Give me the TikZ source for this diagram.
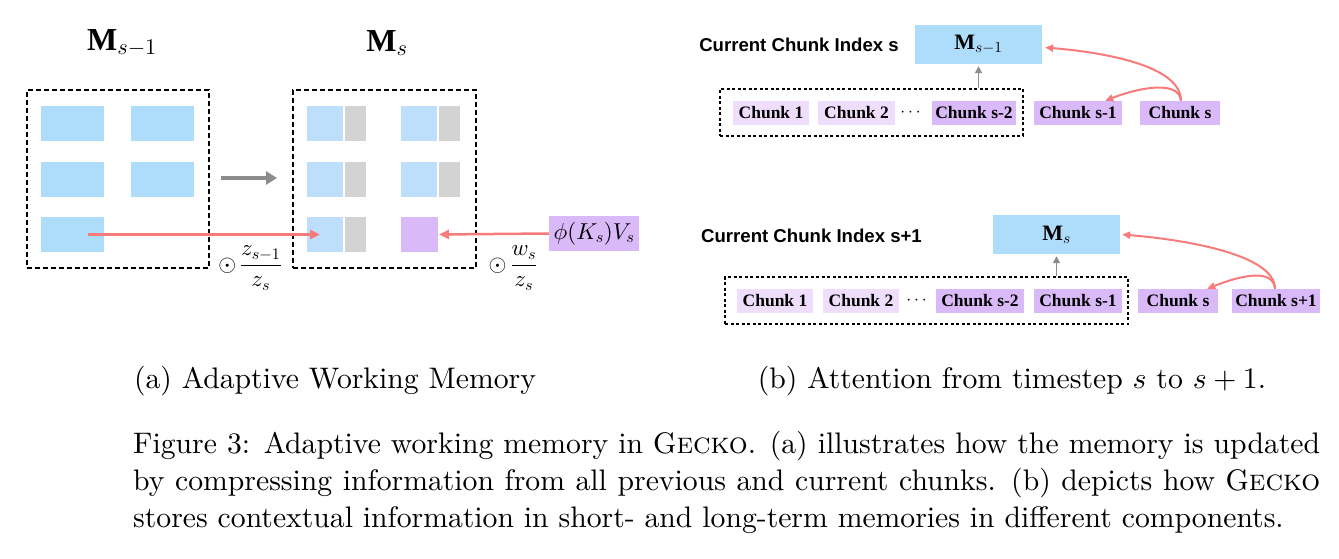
\documentclass[tikz,border=0pt]{standalone}
\usepackage{amsmath}
\usepackage{fontspec}
\setmainfont{lmroman10-regular.otf}[BoldFont=lmroman10-bold.otf, ItalicFont=lmroman10-italic.otf, SmallCapsFont=lmromancaps10-regular.otf]
\DeclareFontShape{OML}{cmm}{m}{it}{<->cmmi10}{}
\DeclareFontShape{OMS}{cmsy}{m}{n}{<->cmsy10}{}
\DeclareFontShape{OT1}{cmr}{m}{n}{<->cmr10}{}
\usetikzlibrary{arrows.meta,calc}
\newfontfamily\tms{Liberation Serif}
\newfontfamily\arl{Liberation Sans}
\definecolor{blueA}{HTML}{AEDCFB}
\definecolor{blueB}{HTML}{BEDFFB}
\definecolor{grayC}{HTML}{D3D3D3}
\definecolor{purpC}{HTML}{DAB9F9}
\definecolor{chunkL}{HTML}{EEDEFC}
\definecolor{chunkD}{HTML}{DAB9F8}
\definecolor{redA}{HTML}{F87B7B}
\definecolor{grayA}{HTML}{8C8C8C}
\newcommand\chfont{\tms\bfseries\fontsize{17.5}{18}\selectfont}
\newcommand\lblfont{\arl\bfseries\fontsize{18.6}{20}\selectfont}
\newcommand\capfont{\fontsize{29.7}{37}\selectfont}
\begin{document}
\begin{tikzpicture}[x=1pt,y=-1pt,
  cell/.style={inner sep=0, outer sep=0, draw=none, minimum height=35pt},
  bcellA/.style={cell, fill=blueA, minimum width=63pt},
  bcellB/.style={cell, fill=blueB, minimum width=36pt},
  gcell/.style={cell, fill=grayC, minimum width=21pt},
  pcell/.style={cell, fill=purpC, minimum width=37pt},
  membox/.style={draw=black, line width=2pt, dash pattern=on 5pt off 3pt, inner sep=0, minimum width=182pt, minimum height=178pt},
  seqbox/.style={draw=black, line width=1.4pt, dash pattern=on 3pt off 2.5pt, inner sep=0, minimum height=47pt},
  chunkl/.style={inner sep=0, fill=chunkL, minimum height=24pt, font=\chfont},
  chunkd/.style={inner sep=0, fill=chunkD, minimum height=24pt, font=\chfont},
  mbox/.style={inner sep=0, fill=blueA, minimum width=127pt, minimum height=39pt, font=\tms\fontsize{22}{24}\selectfont},
  redarr/.style={draw=redA, line width=2.5pt, -{Triangle[length=10pt,width=9pt]}},
  redcurve/.style={draw=redA, line width=2pt, -{Triangle[length=8pt,width=7pt]}},
  grayarr/.style={draw=grayA, line width=4pt, -{Triangle[length=11pt,width=13pt]}},
  grayup/.style={draw=grayA, line width=1.6pt, -{Triangle[length=7pt,width=7pt]}},
  lbl/.style={inner sep=0, font=\lblfont},
  capt/.style={inner sep=0, font=\capfont}
]
\useasboundingbox (0,0) rectangle (1339,559);
\fill[white] (0,0) rectangle (1339,559);

% ---------------- panel (a) ----------------
\node[inner sep=0, font=\fontsize{32}{34}\selectfont] (tML) at (122,43) {{\tms\bfseries M}$_{s-1}$};
\node[inner sep=0, font=\fontsize{32}{34}\selectfont] (tMR) at (387,43) {{\tms\bfseries M}$_{s}$};

\node[membox] (memL) at (118,179) {};
\node[membox, minimum width=183pt] (memR) at (384.5,179) {};

\node[bcellA] (a1) at (72.5,123.5) {};
\node[bcellA] (a2) at (162.5,123.5) {};
\node[bcellA] (a3) at (72.5,179.5) {};
\node[bcellA] (a4) at (162.5,179.5) {};
\node[bcellA] (a5) at (72.5,234.5) {};

\node[bcellB] (b1) at (325,123.5) {};
\node[gcell]  (g1) at (355.5,123.5) {};
\node[bcellB] (b2) at (418.5,123.5) {};
\node[gcell]  (g2) at (449,123.5) {};
\node[bcellB] (b3) at (325,179.5) {};
\node[gcell]  (g3) at (355.5,179.5) {};
\node[bcellB] (b4) at (418.5,179.5) {};
\node[gcell]  (g4) at (449,179.5) {};
\node[bcellB] (b5) at (325,234.5) {};
\node[gcell]  (g5) at (355.5,234.5) {};
\node[pcell]  (p6) at (419.5,234.5) {};

\node[inner sep=0, fill=purpC, minimum width=90pt, minimum height=35pt, font=\fontsize{23}{25}\selectfont] (phi) at (594,233.5) {$\phi(K_s)V_s$};

\coordinate (ga1) at (221,178);
\coordinate (ga2) at (277,178);
\draw[grayarr] (ga1) -- (ga2);

\draw[redarr] ($(a5.center)+(15,0)$) -- ($(b5.west)+(13,0)$);
\draw[redarr] (phi.west) -- ($(p6.east)+(1,0)$);

\node[inner sep=0, font=\fontsize{23}{25}\selectfont] (f1) at (250,268) {$\odot\,\dfrac{z_{s-1}}{z_s}$};
\node[inner sep=0, font=\fontsize{23}{25}\selectfont] (f2) at (513,268) {$\odot\,\dfrac{w_s}{z_s}$};

% ---------------- panel (b), top ----------------
\node[lbl] (L1) at (799,45) {Current Chunk Index s};
\node[mbox] (M1) at (978.5,44.5) {{\bfseries M}$_{s-1}$};
\node[seqbox, minimum width=303pt] (D1) at (871.5,112.5) {};
\node[chunkl, minimum width=76pt] (t1) at (771,113) {Chunk 1};
\node[chunkl, minimum width=77pt] (t2) at (856.5,113) {Chunk 2};
\node[inner sep=0, font=\fontsize{17.5}{18}\selectfont] (td) at (912,113) {$\cdots$};
\node[chunkd, minimum width=84pt] (t3) at (974,113) {Chunk s-2};
\node[chunkd, minimum width=88pt] (t4) at (1078,113) {Chunk s-1};
\node[chunkd, minimum width=80pt] (t5) at (1180,113) {Chunk s};

\draw[grayup, shorten >=2pt] (D1.north -| M1.south) -- (M1.south);
\draw[redcurve] ($(t5.north)+(1,0)$) .. controls +(0,-35) and +(60,5) .. ($(M1.east)+(3,3)$);
\draw[redcurve] ($(t5.north)+(1,0)$) .. controls +(-2,-22) and +(30,-12) .. ($(t4.north east)+(-17,0)$);

% ---------------- panel (b), bottom ----------------
\node[lbl] (L2) at (811.5,236) {Current Chunk Index s+1};
\node[mbox] (M2) at (1056.5,234.5) {{\bfseries M}$_{s}$};
\node[seqbox, minimum width=403pt] (D2) at (926.5,300.5) {};
\node[chunkl, minimum width=76pt] (u1) at (775,301) {Chunk 1};
\node[chunkl, minimum width=76pt] (u2) at (861,301) {Chunk 2};
\node[inner sep=0, font=\fontsize{17.5}{18}\selectfont] (ud) at (918,301) {$\cdots$};
\node[chunkd, minimum width=88pt] (u3) at (980,301) {Chunk s-2};
\node[chunkd, minimum width=88pt] (u4) at (1078,301) {Chunk s-1};
\node[chunkd, minimum width=80pt] (u5) at (1178,301) {Chunk s};
\node[chunkd, minimum width=88pt] (u6) at (1276,301) {Chunk s+1};

\draw[grayup, shorten >=2pt] (D2.north -| M2.south) -- (M2.south);
\draw[redcurve] ($(u6.north)+(-1,0)$) .. controls +(0,-35) and +(60,5) .. ($(M2.east)+(2,0)$);
\draw[redcurve] ($(u6.north)+(-1,0)$) .. controls +(-2,-22) and +(30,-12) .. ($(u5.north east)+(-11,0)$);

% ---------------- captions ----------------
\node[capt, anchor=base] (ca) at (335,388) {(a) Adaptive Working Memory};
\node[capt, anchor=base] (cb) at (1012,388) {(b) Attention from timestep $s$ to $s+1$.};
\node[capt, anchor=base west] (c1) at (133,453) {\makebox[1187pt][s]{Figure 3: Adaptive working memory in G\textsc{ecko}. (a) illustrates how the memory is updated}};
\node[capt, anchor=base west] (c2) at (133,490) {\makebox[1187pt][s]{by compressing information from all previous and current chunks. (b) depicts how G\textsc{ecko}}};
\node[capt, anchor=base west] (c3) at (133,527) {stores contextual information in short- and long-term memories in different components.};
\end{tikzpicture}
\end{document}
